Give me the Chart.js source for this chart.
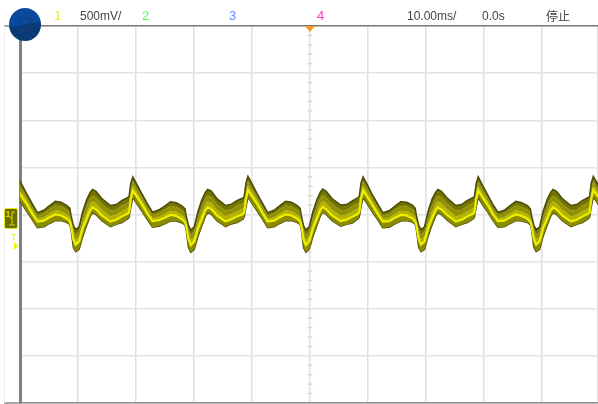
<!DOCTYPE html>
<html>
<head>
<meta charset="utf-8">
<style>
html,body{margin:0;padding:0;background:#fff;overflow:hidden}
#wrap{position:relative;width:598px;height:404px;font-family:"Liberation Sans",sans-serif;font-size:12px;color:#444}
canvas{position:absolute;left:0;top:0;filter:blur(0.5px)}
.t{position:absolute;top:9px;line-height:14px;white-space:nowrap}
#menu{position:absolute;left:9px;top:8px;width:32px;height:33px;border-radius:50%;background:linear-gradient(170deg,#0a4a9c 50%,#0b3a78 50%);filter:blur(0.4px)}
#menu i{position:absolute;left:10px;top:10px;width:10px;height:11px;border:1px solid #1c3a70}
</style>
</head>
<body>
<div id="wrap">
<canvas id="scope" width="598" height="404"></canvas>
<div id="menu"><i></i></div>
<div class="t" style="left:54px;color:#f0f000;font-size:13px">1</div>
<div class="t" style="left:80px">500mV/</div>
<div class="t" style="left:142px;color:#55ff55;font-size:13px">2</div>
<div class="t" style="left:229px;color:#6688ff;font-size:13px">3</div>
<div class="t" style="left:317px;color:#ff33bb;font-size:13px">4</div>
<div class="t" style="left:407px">10.00ms/</div>
<div class="t" style="left:482px">0.0s</div>
<div class="t" style="left:546px;font-family:'Noto Sans CJK SC'">停止</div>
</div>
<script src="https://cdn.jsdelivr.net/npm/chart.js@4"></script>
<script>
// time of each sample (ms), one line per mains cycle
var timeMs = [
  -0.4,0.4,1.2,2.1,3.0,4.1,5.1,6.1,7.1,8.1,8.6,8.8,9.2,9.6,10.2,10.8,11.5,12.1,12.5,13.1,14.1,15.6,16.6,17.6,18.6,18.8,19.1,
  19.45,20.25,21.05,21.95,22.85,23.95,24.95,25.95,26.95,27.95,28.45,28.65,29.05,29.45,30.05,30.65,31.35,31.95,32.35,32.95,33.95,35.45,36.45,37.45,38.45,38.65,38.95,
  39.3,40.1,40.9,41.8,42.7,43.8,44.8,45.8,46.8,47.8,48.3,48.5,48.9,49.3,49.9,50.5,51.2,51.8,52.2,52.8,53.8,55.3,56.3,57.3,58.3,58.5,58.8,
  59.15,59.95,60.75,61.65,62.55,63.65,64.65,65.65,66.65,67.65,68.15,68.35,68.75,69.15,69.75,70.35,71.05,71.65,72.05,72.65,73.65,75.15,76.15,77.15,78.15,78.35,78.65,
  79,79.8,80.6,81.5,82.4,83.5,84.5,85.5,86.5,87.5,88,88.2,88.6,89,89.6,90.2,90.9,91.5,91.9,92.5,93.5,95,96,97,98,98.2,98.5,
  98.85,99.65,100.45,101.35
];
// persistence envelope, mV
var topEdge = [
  400,310,215,115,20,45,95,140,130,95,65,-10,-115,-160,-130,30,160,235,265,245,170,95,105,150,180,190,330,
  400,310,215,115,25,50,90,135,125,90,60,-15,-115,-165,-130,25,155,235,265,250,170,95,110,150,175,190,330,
  405,315,220,120,20,45,95,140,130,95,65,-10,-120,-165,-125,30,160,240,270,245,170,100,105,145,180,195,335,
  400,310,210,115,20,40,90,135,130,100,65,-10,-115,-160,-130,30,165,235,265,245,175,95,105,150,180,190,330,
  400,305,215,110,25,45,95,140,125,95,60,-10,-115,-160,-130,35,160,235,265,245,170,95,105,150,180,190,335,
  405,320,220,120
];
var band1 = [
  350,265,180,80,-10,10,55,95,85,50,20,-45,-165,-215,-180,-30,90,170,200,180,110,40,50,95,125,135,275,
  350,265,180,80,-5,15,50,90,80,45,15,-50,-165,-220,-180,-35,85,170,200,185,110,40,55,95,120,135,275,
  355,270,185,85,-10,10,55,95,85,50,20,-45,-170,-220,-175,-30,90,175,205,180,110,45,50,90,125,140,280,
  350,265,175,80,-10,5,50,90,85,55,20,-45,-165,-215,-180,-30,95,170,200,180,115,40,50,95,125,135,275,
  350,260,180,75,-5,10,55,95,80,50,15,-45,-165,-215,-180,-25,90,170,200,180,110,40,50,95,125,135,280,
  355,275,185,85
];
var band2 = [
  305,225,145,45,-45,-30,10,45,35,0,-30,-80,-215,-265,-235,-90,25,110,140,120,50,-20,0,35,65,75,215,
  305,225,145,45,-40,-25,5,40,30,-5,-35,-85,-215,-270,-235,-95,20,110,140,125,50,-20,5,35,60,75,215,
  310,230,150,50,-45,-30,10,45,35,0,-30,-80,-220,-270,-230,-90,25,115,145,120,50,-15,0,30,65,80,220,
  305,225,140,45,-45,-35,5,40,35,5,-30,-80,-215,-265,-235,-90,30,110,140,120,55,-20,0,35,65,75,215,
  305,220,145,40,-40,-30,10,45,30,0,-35,-80,-215,-265,-235,-85,25,110,140,120,50,-20,0,35,65,75,220,
  310,235,150,50
];
var brightLine = [
  255,180,105,10,-75,-65,-30,0,-10,-45,-75,-115,-265,-320,-285,-150,-45,45,75,55,-10,-75,-55,-20,10,20,160,
  255,180,105,10,-70,-60,-35,-5,-15,-50,-80,-120,-265,-325,-285,-155,-50,45,75,60,-10,-75,-50,-20,5,20,160,
  260,185,110,15,-75,-65,-30,0,-10,-45,-75,-115,-270,-325,-280,-150,-45,50,80,55,-10,-70,-55,-25,10,25,165,
  255,180,100,10,-75,-70,-35,-5,-10,-40,-75,-115,-265,-320,-285,-150,-40,45,75,55,-5,-75,-55,-20,10,20,160,
  255,175,105,5,-70,-65,-30,0,-15,-45,-80,-115,-265,-320,-285,-145,-45,45,75,55,-10,-75,-55,-20,10,20,165,
  260,190,110,15
];
var bottomEdge = [
  180,105,30,-55,-140,-130,-95,-65,-65,-85,-105,-160,-350,-395,-370,-235,-115,-20,20,0,-65,-130,-105,-85,-45,-30,75,
  180,105,30,-55,-135,-125,-100,-70,-70,-90,-110,-165,-350,-400,-370,-240,-120,-20,20,5,-65,-130,-100,-85,-50,-30,75,
  185,110,35,-50,-140,-130,-95,-65,-65,-85,-105,-160,-355,-400,-365,-235,-115,-15,25,0,-65,-125,-105,-90,-45,-25,80,
  180,105,25,-55,-140,-135,-100,-70,-65,-80,-105,-160,-350,-395,-370,-235,-110,-20,20,0,-60,-130,-105,-85,-45,-30,75,
  180,100,30,-60,-135,-130,-95,-65,-70,-85,-110,-160,-350,-395,-370,-230,-115,-20,20,0,-65,-130,-105,-85,-45,-30,80,
  185,115,35,-50
];

function pts(values){
  return values.map(function(v,i){ return {x:timeMs[i], y:v}; });
}

var scopeMarks = {
  id:'scopeMarks',
  // center ticks go under the trace
  beforeDatasetsDraw:function(chart){
    var c = chart.ctx, xs = chart.scales.x, ys = chart.scales.y;
    var cx = xs.getPixelForValue(50);
    c.save();
    c.strokeStyle = '#d8d8d8';
    c.lineWidth = 1.5;
    for (var v=-1900; v<2000; v+=100){
      if (v % 500 === 0) continue;
      var py = ys.getPixelForValue(v);
      c.beginPath(); c.moveTo(cx-2.5,py); c.lineTo(cx+2.5,py); c.stroke();
    }
    c.restore();
  },
  // frame left of the axis, trigger mark, channel 1 badge
  afterDraw:function(chart){
    var c = chart.ctx, xs = chart.scales.x, ys = chart.scales.y;
    var cx = xs.getPixelForValue(50), top = ys.getPixelForValue(2000), bot = ys.getPixelForValue(-2000);
    c.save();
    c.strokeStyle = '#8a8a8a';
    c.lineWidth = 1.5;
    c.beginPath(); c.moveTo(4,top); c.lineTo(20,top); c.moveTo(4,bot); c.lineTo(20,bot); c.stroke();
    c.strokeStyle = '#ececec';
    c.lineWidth = 1;
    c.beginPath(); c.moveTo(4.5,top); c.lineTo(4.5,bot); c.stroke();
    // trigger position
    c.fillStyle = '#f59a23';
    c.beginPath(); c.moveTo(cx-5,top); c.lineTo(cx+5,top); c.lineTo(cx,top+6); c.closePath(); c.fill();
    // channel badge
    c.fillStyle = '#6b6b00';
    c.strokeStyle = '#e8e800';
    c.lineWidth = 1;
    c.beginPath(); c.roundRect(4.5,208.5,13,20,2); c.fill(); c.stroke();
    c.fillStyle = '#d8d800';
    c.font = 'bold 9px "Liberation Sans"';
    c.fillText('1',5.5,217);
    c.strokeStyle = '#d8d800';
    c.beginPath(); c.moveTo(10,218); c.lineTo(12,218); c.lineTo(12,212); c.lineTo(15,212); c.moveTo(12,218); c.lineTo(12,225); c.moveTo(9,225); c.lineTo(15,225); c.stroke();
    // trigger level
    c.fillStyle = '#f0f000';
    c.font = '9px "Liberation Sans"';
    c.fillText('T',11,240);
    c.beginPath(); c.moveTo(14,242); c.lineTo(18,246); c.lineTo(14,250); c.closePath(); c.fill();
    c.restore();
  }
};

new Chart(document.getElementById('scope'), {
  type:'line',
  data:{
    datasets:[
      {data:pts(topEdge),    borderColor:'#4c4c08', borderWidth:1.5, backgroundColor:'#747400', fill:'+1', order:2},
      {data:pts(band1),      borderWidth:0, backgroundColor:'#929200', fill:'+1', order:3},
      {data:pts(band2),      borderWidth:0, backgroundColor:'#b4b400', fill:'+1', order:4},
      {data:pts(brightLine), borderColor:'#eeee00', borderWidth:2.2, backgroundColor:'#8c8c00', fill:'+1', order:0},
      {data:pts(bottomEdge), borderColor:'#4c4c08', borderWidth:1.5, order:1}
    ]
  },
  options:{
    responsive:false,
    animation:false,
    layout:{padding:{left:20,top:26,right:0,bottom:1}},
    elements:{point:{radius:0},line:{tension:0}},
    plugins:{legend:{display:false},tooltip:{enabled:false}},
    scales:{
      x:{
        type:'linear', min:0, max:99.66,
        ticks:{display:false, stepSize:10},
        grid:{color:'#e0e0e0', lineWidth:1.5, drawTicks:false},
        border:{color:'#8a8a8a', width:1.5}
      },
      y:{
        min:-2000, max:2000,
        ticks:{display:false, stepSize:500},
        grid:{
          color:function(ctx){ return ctx.tick.value===2000 ? '#777777' : '#e4e4e4'; },
          lineWidth:1.5,
          drawTicks:false
        },
        border:{color:'#808080', width:3}
      }
    }
  },
  plugins:[scopeMarks]
});
</script>
</body>
</html>
